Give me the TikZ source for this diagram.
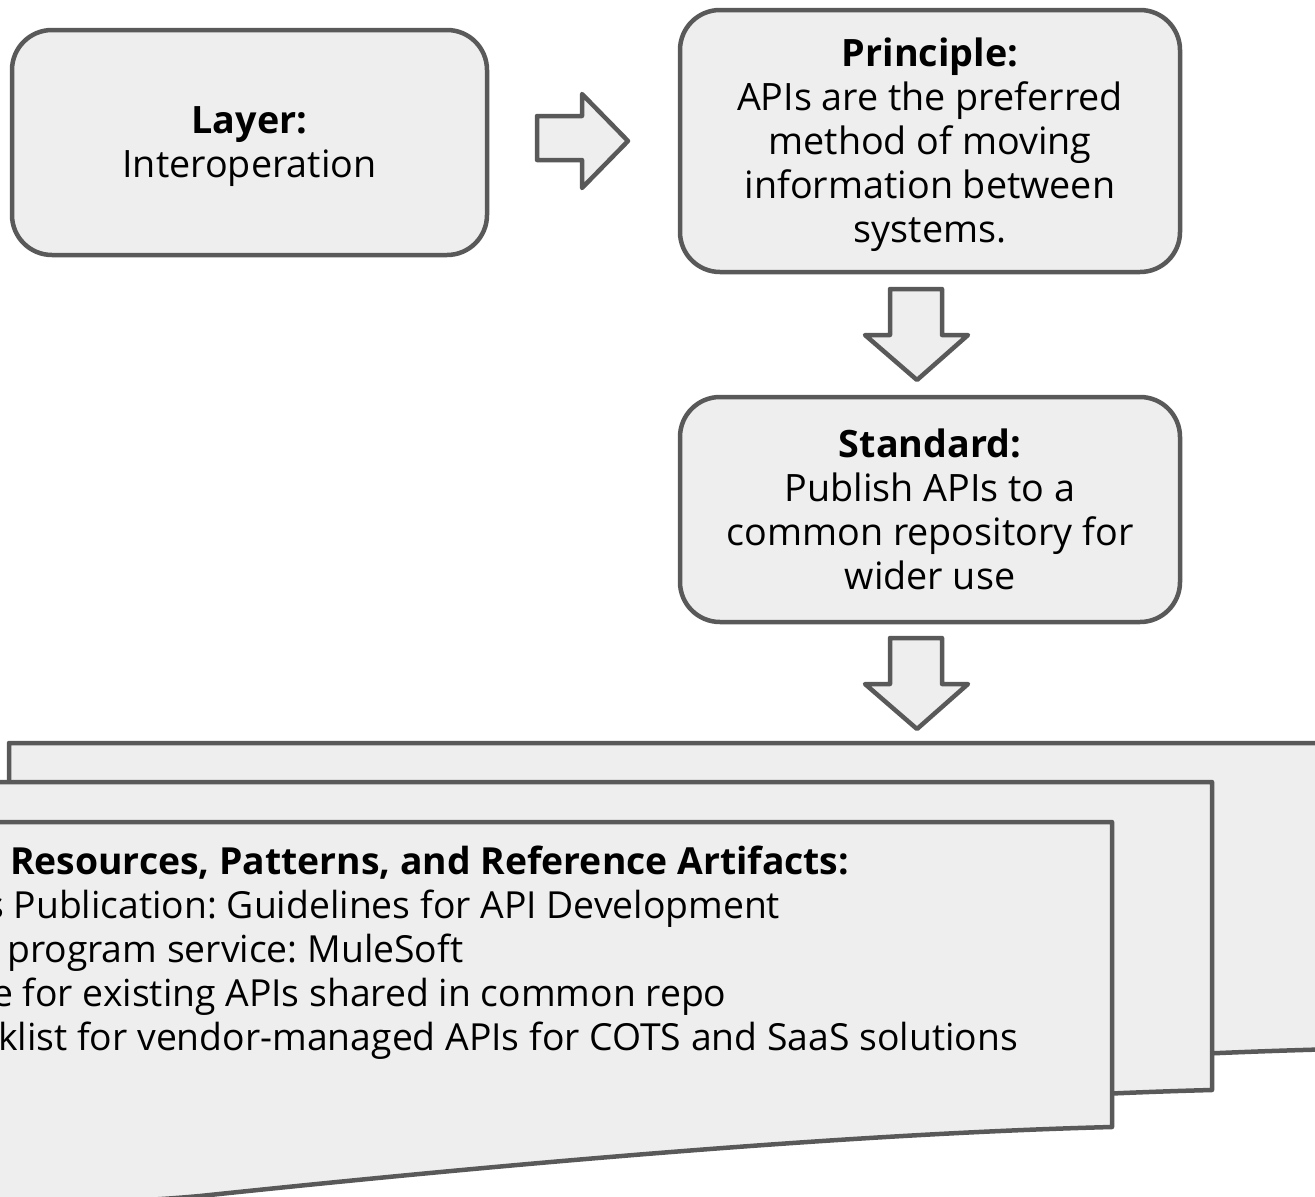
\documentclass[tikz,border=0pt]{standalone}
\usepackage{fontspec}
\setmainfont{Open Sans}
\definecolor{ln}{HTML}{595959}
\definecolor{fl}{HTML}{EEEEEE}
\newcommand\tsA{\rule{0pt}{36pt}}
\newcommand\bsA{\rule[-8pt]{0pt}{8pt}}
\frenchspacing
\begin{document}
\begin{tikzpicture}[x=1pt,y=-1pt,
  shp/.style={draw=ln,fill=fl,line width=4.5pt,line join=round},
  box/.style={shp,rounded corners=40pt,align=center,inner sep=0pt},
  txt/.style={font=\fontsize{37.7}{44}\selectfont},
  ltxt/.style={font=\fontsize{37.3}{44}\selectfont,anchor=base west,inner sep=0pt}]
\useasboundingbox (0,0) rectangle (1315,1197);
% boxes
\node[box,txt,minimum width=475pt,minimum height=225pt] (layer) at (249.5,142.5) {\tsA\textbf{Layer:}\\Interoperation\bsA};
\node[box,txt,minimum width=500pt,minimum height=262pt] (principle) at (930,141) {\tsA\textbf{Principle:}\\APIs are the preferred\\method of moving\\information between\\systems.\bsA};
\node[box,txt,minimum width=500pt,minimum height=225pt] (standard) at (930,509.5) {\tsA\textbf{Standard:}\\Publish APIs to a\\common repository for\\wider use\bsA};
% block arrows
\draw[shp] (537,116) -- (582,116) -- (582,94) -- (628,141) -- (582,188) -- (582,160) -- (537,160) -- cycle;
\draw[shp] (890,289) -- (942,289) -- (942,335) -- (968,335) -- (917,380) -- (865,335) -- (890,335) -- cycle;
\draw[shp] (890,638) -- (942,638) -- (942,684) -- (968,684) -- (917,729) -- (865,684) -- (890,684) -- cycle;
% stacked documents
\draw[shp] (9,743) -- (1340,743) -- (1340,1049) .. controls (1000,1057) and (600,1097) .. (400,1118) .. controls (300,1127) and (200,1127) .. (9,1122) -- cycle;
\draw[shp] (-91,782) -- (1212,782) -- (1212,1090) .. controls (900,1098) and (500,1138) .. (300,1159) .. controls (200,1168) and (100,1168) .. (-91,1163) -- cycle;
\draw[shp] (-191,822) -- (1112,822) -- (1112,1127) .. controls (800,1135) and (400,1175) .. (200,1196) .. controls (100,1205) and (0,1205) .. (-191,1200) -- cycle;
% document text
\node[ltxt] (hdr) at (10,874) {\textbf{Resources, Patterns, and Reference Artifacts:}};
\node[ltxt] (l1) at (-14,918) {s Publication: Guidelines for API Development};
\node[ltxt] (l2) at (7,962) {program service: MuleSoft};
\node[ltxt] (l3) at (-8,1006) {e for existing APIs shared in common repo};
\node[ltxt] (l4) at (-2,1050) {klist for vendor-managed APIs for COTS and SaaS solutions};
\end{tikzpicture}
\end{document}
